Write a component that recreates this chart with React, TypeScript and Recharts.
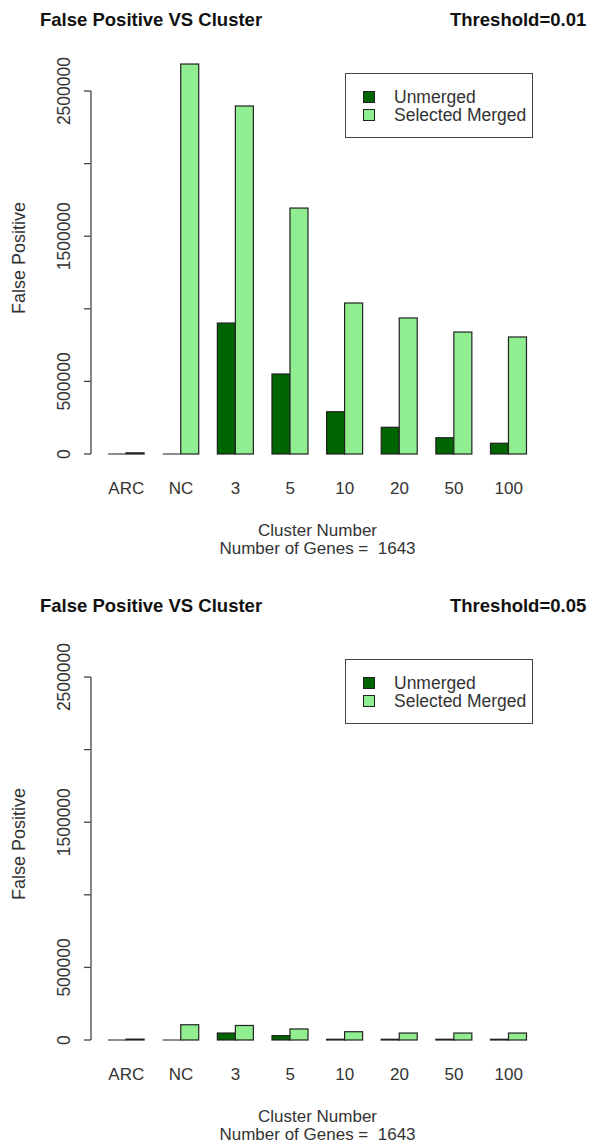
import React from "react";
import { BarChart, Bar, XAxis, YAxis, Legend } from "recharts";

const clusters = ["ARC", "NC", "3", "5", "10", "20", "50", "100"];
const unmerged001 = [0, 0, 902000, 551000, 291000, 184000, 112000, 74000];
const merged001 = [8000, 2686000, 2397000, 1694000, 1040000, 937000, 840000, 806000];
const unmerged005 = [0, 0, 48000, 30000, 5000, 5000, 5000, 5000];
const merged005 = [6000, 105000, 100000, 76000, 57000, 48000, 48000, 48000];
const yTicks = [0, 500000, 1000000, 1500000, 2000000, 2500000];
const yLabels = ["0", "500000", "", "1500000", "", "2500000"];
const seriesNames = ["Unmerged", "Selected Merged"];
const yMax = 2700000;

const FONT = "'Liberation Sans', Arial, sans-serif";
const DARK = "#006400";
const LIGHT = "#90EE90";

const BarShape = (props: any) => {
    const { x, y, width, height, fill } = props;
    if (!height || height < 0.5) {
        return <line x1={x} x2={x + width} y1={y} y2={y} stroke="#666" strokeWidth={1.5} />;
    }
    return <rect x={x} y={y} width={width} height={height} fill={fill} stroke="#222" strokeWidth={1.2} />;
};

// R style y axis: outward ticks, rotated labels, axis line only between first and last tick
const YTick = (props: any) => {
    const { x, y, payload, index, height } = props;
    const axisX = x + 7 + 15;
    const step = (height * (yTicks[1] - yTicks[0])) / yMax;
    const lx = axisX - 21;
    return (
        <g>
            <line x1={axisX - 7} x2={axisX} y1={y} y2={y} stroke="#444" strokeWidth={1.3} />
            {index < yTicks.length - 1 && (
                <line x1={axisX} x2={axisX} y1={y} y2={y - step} stroke="#444" strokeWidth={1.3} />
            )}
            <text
                x={lx}
                y={y}
                transform={`rotate(-90, ${lx}, ${y})`}
                textAnchor="middle"
                fontSize={17.5}
                fontFamily={FONT}
                fill="#333"
            >
                {yLabels[yTicks.indexOf(payload.value)]}
            </text>
        </g>
    );
};

const LegendBox = ({ payload }: any) => {
    const items = [...(payload || [])].sort(
        (a: any, b: any) => seriesNames.indexOf(a.value) - seriesNames.indexOf(b.value)
    );
    return (
        <div
            style={{
                border: "1px solid #444",
                background: "#fff",
                width: 188,
                height: 65,
                boxSizing: "border-box",
                padding: "14px 0 0 17px",
                fontFamily: FONT,
                fontSize: 17.5,
                color: "#333",
                textAlign: "left",
            }}
        >
            {items.map((p: any) => (
                <div key={p.value} style={{ display: "flex", alignItems: "center", height: 18 }}>
                    <span
                        style={{
                            display: "inline-block",
                            width: 10,
                            height: 10,
                            background: p.color,
                            border: "1px solid #222",
                            marginRight: 19,
                        }}
                    />
                    {p.value}
                </div>
            ))}
        </div>
    );
};

function Panel({ top, threshold, unmerged, merged }: { top: number; threshold: string; unmerged: number[]; merged: number[] }) {
    const data = clusters.map((c, i) => ({ cluster: c, unmerged: unmerged[i], merged: merged[i] }));
    return (
        <div style={{ position: "absolute", left: 0, top, width: 592, height: 558 }}>
            <div style={{ position: "absolute", left: 40, top: 9, fontFamily: FONT, fontWeight: "bold", fontSize: 18.5, color: "#111", whiteSpace: "nowrap" }}>
                False Positive VS Cluster
            </div>
            <div style={{ position: "absolute", left: 450, top: 9, fontFamily: FONT, fontWeight: "bold", fontSize: 18.5, color: "#111", whiteSpace: "nowrap" }}>
                {threshold}
            </div>
            <BarChart
                width={592}
                height={558}
                data={data}
                margin={{ top: 62, right: 48, bottom: 0, left: 0 }}
                barCategoryGap="16.67%"
                barGap={0}
            >
                <XAxis
                    dataKey="cluster"
                    height={104}
                    padding={{ left: 8, right: 8 }}
                    axisLine={false}
                    tickLine={false}
                    tickMargin={22}
                    tick={{ fontSize: 17, fill: "#333", fontFamily: FONT }}
                    interval={0}
                    label={({ viewBox }: any) => {
                        const cx = viewBox.x + viewBox.width / 2;
                        return (
                            <g>
                                <text x={cx} y={viewBox.y + 82} textAnchor="middle" fontSize={17} fontFamily={FONT} fill="#333">
                                    Cluster Number
                                </text>
                                <text x={cx} y={viewBox.y + 100} textAnchor="middle" fontSize={17} fontFamily={FONT} fill="#333" style={{ whiteSpace: "pre" }}>
                                    {"Number of Genes =  1643"}
                                </text>
                            </g>
                        );
                    }}
                />
                <YAxis
                    width={91}
                    domain={[0, yMax]}
                    ticks={yTicks}
                    interval={0}
                    axisLine={false}
                    tickLine={false}
                    tickSize={7}
                    tickMargin={15}
                    tick={<YTick />}
                    label={({ viewBox }: any) => {
                        const cy = viewBox.y + viewBox.height / 2;
                        return (
                            <text x={24.5} y={cy} transform={`rotate(-90, 24.5, ${cy})`} textAnchor="middle" fontSize={18} fontFamily={FONT} fill="#333">
                                False Positive
                            </text>
                        );
                    }}
                />
                <Legend
                    layout="vertical"
                    align="center"
                    verticalAlign="middle"
                    content={<LegendBox />}
                    wrapperStyle={{ left: 345, top: 73, width: 188, height: 65 }}
                />
                <Bar dataKey="unmerged" name={seriesNames[0]} fill={DARK} shape={<BarShape />} isAnimationActive={false} />
                <Bar dataKey="merged" name={seriesNames[1]} fill={LIGHT} shape={<BarShape />} isAnimationActive={false} />
            </BarChart>
        </div>
    );
}

export default function App() {
    return (
        <div style={{ position: "absolute", left: 0, top: 0, width: 592, height: 1144, overflow: "hidden", background: "#fff" }}>
            <Panel top={0} threshold="Threshold=0.01" unmerged={unmerged001} merged={merged001} />
            <Panel top={586} threshold="Threshold=0.05" unmerged={unmerged005} merged={merged005} />
        </div>
    );
}
